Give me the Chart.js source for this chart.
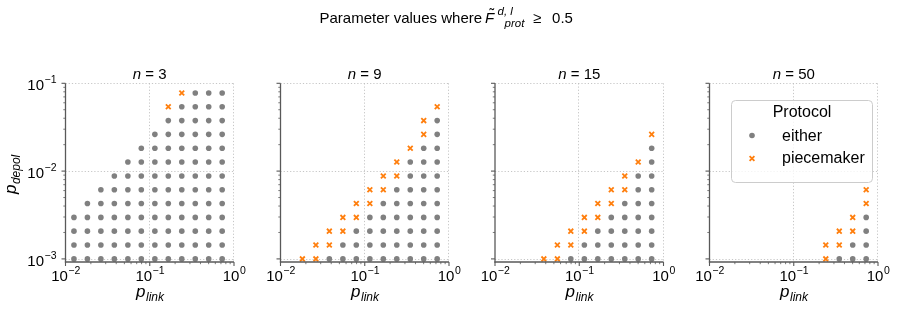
<!doctype html>
<html>
<head>
<title>Parameter values where F_prot >= 0.5</title>
<script src="https://cdn.jsdelivr.net/npm/chart.js@4.4.1/dist/chart.umd.min.js"></script>
<style>
  body { margin: 0; background: #fff; }
  #fig { position: relative; width: 897px; height: 319px; }
  #fig canvas { position: absolute; left: 0; top: 0; }
</style>
</head>
<body>
<div id="fig">
  <canvas id="c0" width="897" height="319"></canvas>
  <canvas id="c1" width="897" height="319"></canvas>
  <canvas id="c2" width="897" height="319"></canvas>
  <canvas id="c3" width="897" height="319"></canvas>
</div>
<script>
// grid of parameter values
const pLink = [0.0126, 0.0182, 0.0263, 0.0380, 0.0550, 0.0794, 0.115, 0.166, 0.240, 0.347, 0.501, 0.724];
const pDepol = [0.00100, 0.00144, 0.00207, 0.00297, 0.00427, 0.00613, 0.00881, 0.0127, 0.0182, 0.0262, 0.0376, 0.0540, 0.0776];
const panelN = [3, 9, 15, 50];

// per pDepol row (bottom to top): first pLink index marked "either" (runs to the last column), -1 = none
const eitherFrom = [
  [0, 0, 0, 0, 1, 2, 3, 4, 5, 6, 7, 8, 9],
  [3, 4, 5, 6, 7, 8, 9, 9, 10, 11, 11, -1, -1],
  [5, 6, 7, 8, 9, 10, 10, 11, 11, -1, -1, -1, -1],
  [9, 10, 11, 11, -1, -1, -1, -1, -1, -1, -1, -1, -1]
];
// per pDepol row: pLink indices where only "piecemaker" works
const piecemakerCols = [
  [[], [], [], [], [], [], [], [], [], [], [], [7], [8]],
  [[1, 2], [2, 3], [3, 4], [4, 5], [5, 6], [6, 7], [7, 8], [8], [9], [10], [10], [11], []],
  [[3, 4], [4, 5], [5, 6], [6, 7], [7, 8], [8, 9], [9], [10], [], [11], [], [], []],
  [[8], [8, 9], [9, 10], [10], [11], [11], [], [], [], [], [], [], []]
];
const xTicks = [0.01, 0.1, 1];
const yTicks = [0.001, 0.01, 0.1];

const FONT = '"Liberation Sans", Arial, sans-serif';
const GREY = '#808080';
const ORANGE = '#ff7f0e';
const SPINE = '#595959';

// layout of the four axes boxes in page pixels
const panelLeft = [65.5, 280.5, 495, 709.5];
const panelW = 168.5;
const plotTop = 83.3;
const plotBottom = 262;

function setFont(ctx, size, italic) {
  ctx.font = (italic ? 'italic ' : '') + size + 'px ' + FONT;
}
function put(ctx, s, x, y, size, italic) {
  setFont(ctx, size, italic);
  ctx.textAlign = 'left';
  ctx.textBaseline = 'alphabetic';
  ctx.fillText(s, x, y);
  return ctx.measureText(s).width;
}
function measure(ctx, s, size, italic) {
  setFont(ctx, size, italic);
  return ctx.measureText(s).width;
}
function line(ctx, x1, y1, x2, y2) {
  ctx.beginPath();
  ctx.moveTo(x1, y1);
  ctx.lineTo(x2, y2);
  ctx.stroke();
}

// 10^e tick label; x is the centre (x axis) or the right end of "10" (y axis)
function drawPow(ctx, e, x, y, align) {
  const sup = e < 0 ? '\u2212' + (-e) : String(e);
  const w1 = measure(ctx, '10', 15);
  const w2 = measure(ctx, sup, 10.5);
  const x0 = align === 'center' ? x - (w1 + w2) / 2 : x - w1;
  put(ctx, '10', x0, y, 15);
  put(ctx, sup, x0 + w1 + 0.5, y - 7, 10.5);
}

// p_sub axis label
function drawSubLabel(ctx, main, sub, cx, y) {
  const w1 = measure(ctx, main, 17, true);
  const w2 = measure(ctx, sub, 12, true);
  const x0 = cx - (w1 + w2) / 2;
  put(ctx, main, x0, y, 17, true);
  put(ctx, sub, x0 + w1 + 0.5, y + 4, 12, true);
}

function drawTitle(ctx) {
  ctx.fillStyle = '#000';
  const base = 22.7;
  const x0 = 319.5;
  const w1 = put(ctx, 'Parameter values where', x0, base, 15);
  const fx = x0 + w1 + 3;
  put(ctx, 'F', fx, base, 15, true);
  put(ctx, '\u02dc', fx + 4.5, base - 3.5, 14);
  put(ctx, 'd, l', fx + 12.5, base - 7.5, 11.5, true);
  put(ctx, 'prot', fx + 19.5, base + 4.5, 11.5, true);
  put(ctx, '\u2265', fx + 48, base, 15);
  put(ctx, '0.5', fx + 67, base, 15);
}

function drawLegend(ctx) {
  const bx = 731, by = 100, bw = 141, bh = 82;
  ctx.save();
  ctx.fillStyle = 'rgba(255,255,255,0.8)';
  ctx.strokeStyle = '#cccccc';
  ctx.lineWidth = 1;
  ctx.beginPath();
  ctx.roundRect(bx + 0.5, by + 0.5, bw, bh, 4);
  ctx.fill();
  ctx.stroke();
  ctx.fillStyle = '#000';
  const wt = measure(ctx, 'Protocol', 16);
  put(ctx, 'Protocol', bx + bw / 2 - wt / 2 + 0.5, 117, 16);
  put(ctx, 'either', 782, 140.5, 16);
  put(ctx, 'piecemaker', 782, 163, 16);
  ctx.fillStyle = GREY;
  Chart.helpers.drawPoint(ctx, {pointStyle: 'circle', radius: 2.8, borderWidth: 0}, 752, 135.5);
  ctx.strokeStyle = ORANGE;
  ctx.lineWidth = 1.8;
  Chart.helpers.drawPoint(ctx, {pointStyle: 'crossRot', radius: 3.4, borderWidth: 1.8}, 752, 158.5);
  ctx.restore();
}

function decor(k) {
  return {
    id: 'decor',
    beforeDatasetsDraw(chart) {
      const ctx = chart.ctx, a = chart.chartArea;
      const xs = chart.scales.x, ys = chart.scales.y;
      ctx.save();
      ctx.strokeStyle = '#b8b8b8';
      ctx.lineWidth = 0.8;
      ctx.setLineDash([1.2, 2]);
      xTicks.forEach(v => {
        if (v <= xs.min) return;
        const px = Math.round(xs.getPixelForValue(v)) - 0.5;
        line(ctx, px, a.top, px, a.bottom);
      });
      yTicks.forEach(v => {
        const py = Math.round(ys.getPixelForValue(v)) + 0.5;
        line(ctx, a.left, py, a.right, py);
      });
      ctx.restore();
    },
    afterDraw(chart) {
      const ctx = chart.ctx, a = chart.chartArea;
      const xs = chart.scales.x, ys = chart.scales.y;
      ctx.save();
      // spines
      ctx.strokeStyle = SPINE;
      ctx.lineWidth = 1.3;
      line(ctx, a.left, a.top, a.left, a.bottom + 0.6);
      line(ctx, a.left - 0.6, a.bottom, a.right, a.bottom);
      // major ticks
      ctx.lineWidth = 1.1;
      xTicks.forEach(v => {
        const px = xs.getPixelForValue(v);
        line(ctx, px, a.bottom, px, a.bottom + 4);
      });
      yTicks.forEach(v => {
        const py = ys.getPixelForValue(v);
        line(ctx, a.left - 4, py, a.left, py);
      });
      // minor ticks
      ctx.lineWidth = 0.8;
      [0.01, 0.1].forEach(d => {
        for (let m = 2; m <= 9; m++) {
          const px = xs.getPixelForValue(m * d);
          line(ctx, px, a.bottom, px, a.bottom + 2.2);
        }
      });
      [0.0001, 0.001, 0.01].forEach(d => {
        for (let m = 2; m <= 9; m++) {
          const v = m * d;
          if (v < ys.min || v > ys.max) continue;
          const py = ys.getPixelForValue(v);
          line(ctx, a.left - 2.2, py, a.left, py);
        }
      });
      // tick labels
      ctx.fillStyle = '#000';
      xTicks.forEach(v => {
        drawPow(ctx, Math.round(Math.log10(v)), xs.getPixelForValue(v), 280.5, 'center');
      });
      if (k === 0) {
        yTicks.forEach(v => {
          drawPow(ctx, Math.round(Math.log10(v)), 44, ys.getPixelForValue(v) + 7, 'right');
        });
      }
      // axis labels
      const cx = (a.left + a.right) / 2;
      drawSubLabel(ctx, 'p', 'link', cx, 297);
      if (k === 0) {
        ctx.save();
        ctx.translate(16, (a.top + a.bottom) / 2 + 2);
        ctx.rotate(-Math.PI / 2);
        drawSubLabel(ctx, 'p', 'depol', 0, 0);
        ctx.restore();
      }
      // panel title
      const wn = measure(ctx, 'n', 15, true);
      const rest = ' = ' + panelN[k];
      const wr = measure(ctx, rest, 15);
      put(ctx, 'n', cx - (wn + wr) / 2, 79, 15, true);
      put(ctx, rest, cx - (wn + wr) / 2 + wn, 79, 15);
      if (k === 0) drawTitle(ctx);
      if (k === 3) drawLegend(ctx);
      ctx.restore();
    }
  };
}

function panelData(k) {
  const either = [], piece = [];
  pDepol.forEach((y, j) => {
    const from = eitherFrom[k][j];
    if (from >= 0) {
      for (let i = from; i < pLink.length; i++) either.push({x: pLink[i], y: y});
    }
    piecemakerCols[k][j].forEach(i => piece.push({x: pLink[i], y: y}));
  });
  return {either, piece};
}

window.onload = function() {
  panelN.forEach((n, k) => {
    const d = panelData(k);
    new Chart(document.getElementById('c' + k).getContext('2d'), {
      type: 'scatter',
      data: {
        datasets: [{
          label: 'either',
          data: d.either,
          pointStyle: 'circle',
          pointRadius: 2.8,
          backgroundColor: GREY,
          borderWidth: 0,
          clip: false
        }, {
          label: 'piecemaker',
          data: d.piece,
          pointStyle: 'crossRot',
          pointRadius: 3.4,
          borderColor: ORANGE,
          backgroundColor: ORANGE,
          borderWidth: 1.8,
          clip: false
        }]
      },
      options: {
        responsive: false,
        animation: false,
        events: [],
        layout: {
          padding: {
            left: panelLeft[k],
            right: 897 - panelLeft[k] - panelW,
            top: plotTop,
            bottom: 319 - plotBottom
          }
        },
        scales: {
          x: {type: 'logarithmic', min: 0.01, max: 1, display: false},
          y: {type: 'logarithmic', min: 0.000922, max: 0.1, display: false}
        },
        plugins: {
          legend: {display: false},
          tooltip: {enabled: false}
        }
      },
      plugins: [decor(k)]
    });
  });
};
</script>
</body>
</html>
